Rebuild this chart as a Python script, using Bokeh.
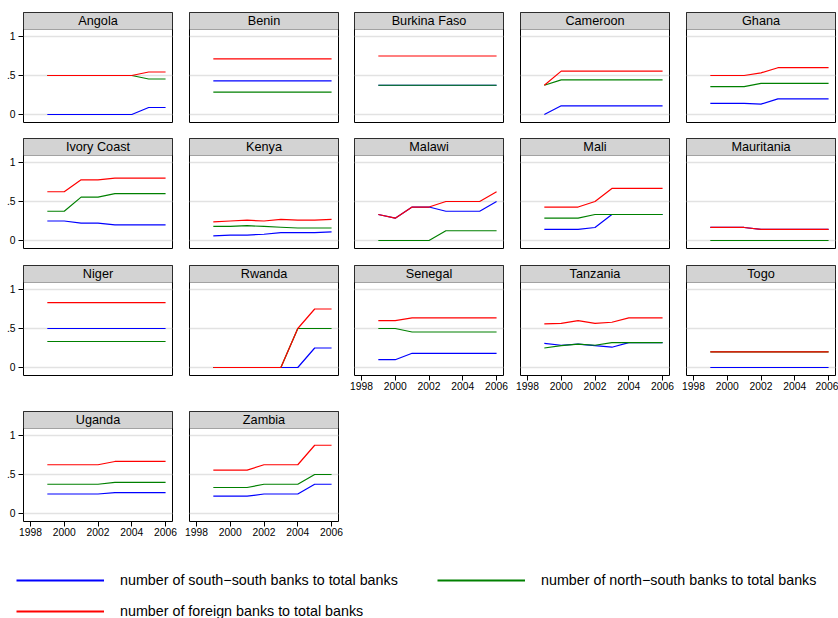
from bokeh.plotting import figure
from bokeh.layouts import column, row
from bokeh.models import (Range1d, FixedTicker, Grid, BoxAnnotation, Label,
                          Legend, LegendItem)
from bokeh.embed import file_html
from bokeh.resources import INLINE

# ---------------- data ----------------
years = [1999, 2000, 2001, 2002, 2003, 2004, 2005, 2006]
countries = ["Angola", "Benin", "Burkina Faso", "Cameroon", "Ghana",
             "Ivory Coast", "Kenya", "Malawi", "Mali", "Mauritania",
             "Niger", "Rwanda", "Senegal", "Tanzania", "Togo",
             "Uganda", "Zambia"]

south_south = [
    [0, 0, 0, 0, 0, 0, 0.09, 0.09],                                  # Angola
    [0.43, 0.43, 0.43, 0.43, 0.43, 0.43, 0.43, 0.43],                # Benin
    [0.375, 0.375, 0.375, 0.375, 0.375, 0.375, 0.375, 0.375],        # Burkina Faso
    [0, 0.111, 0.111, 0.111, 0.111, 0.111, 0.111, 0.111],            # Cameroon
    [0.143, 0.143, 0.143, 0.133, 0.2, 0.2, 0.2, 0.2],                # Ghana
    [0.25, 0.25, 0.222, 0.222, 0.2, 0.2, 0.2, 0.2],                  # Ivory Coast
    [0.06, 0.07, 0.07, 0.08, 0.10, 0.10, 0.10, 0.11],                # Kenya
    [0.333, 0.286, 0.429, 0.429, 0.375, 0.375, 0.375, 0.5],          # Malawi
    [0.143, 0.143, 0.143, 0.167, 0.333, 0.333, 0.333, 0.333],        # Mali
    [0.167, 0.167, 0.167, 0.143, 0.143, 0.143, 0.143, 0.143],        # Mauritania
    [0.5, 0.5, 0.5, 0.5, 0.5, 0.5, 0.5, 0.5],                        # Niger
    [0, 0, 0, 0, 0, 0, 0.25, 0.25],                                  # Rwanda
    [0.1, 0.1, 0.182, 0.182, 0.182, 0.182, 0.182, 0.182],            # Senegal
    [0.31, 0.285, 0.3, 0.28, 0.26, 0.318, 0.318, 0.318],             # Tanzania
    [0, 0, 0, 0, 0, 0, 0, 0],                                        # Togo
    [0.25, 0.25, 0.25, 0.25, 0.267, 0.267, 0.267, 0.267],            # Uganda
    [0.222, 0.222, 0.222, 0.25, 0.25, 0.25, 0.375, 0.375],           # Zambia
]

north_south = [
    [0.5, 0.5, 0.5, 0.5, 0.5, 0.5, 0.455, 0.455],                    # Angola
    [0.286, 0.286, 0.286, 0.286, 0.286, 0.286, 0.286, 0.286],        # Benin
    [0.375, 0.375, 0.375, 0.375, 0.375, 0.375, 0.375, 0.375],        # Burkina Faso
    [0.375, 0.444, 0.444, 0.444, 0.444, 0.444, 0.444, 0.444],        # Cameroon
    [0.357, 0.357, 0.357, 0.4, 0.4, 0.4, 0.4, 0.4],                  # Ghana
    [0.375, 0.375, 0.556, 0.556, 0.6, 0.6, 0.6, 0.6],                # Ivory Coast
    [0.18, 0.18, 0.19, 0.18, 0.17, 0.16, 0.16, 0.16],                # Kenya
    [0, 0, 0, 0, 0.125, 0.125, 0.125, 0.125],                        # Malawi
    [0.286, 0.286, 0.286, 0.333, 0.333, 0.333, 0.333, 0.333],        # Mali
    [0, 0, 0, 0, 0, 0, 0, 0],                                        # Mauritania
    [0.333, 0.333, 0.333, 0.333, 0.333, 0.333, 0.333, 0.333],        # Niger
    [0, 0, 0, 0, 0, 0.5, 0.5, 0.5],                                  # Rwanda
    [0.5, 0.5, 0.455, 0.455, 0.455, 0.455, 0.455, 0.455],            # Senegal
    [0.25, 0.28, 0.3, 0.285, 0.32, 0.318, 0.318, 0.318],             # Tanzania
    [0.2, 0.2, 0.2, 0.2, 0.2, 0.2, 0.2, 0.2],                        # Togo
    [0.375, 0.375, 0.375, 0.375, 0.4, 0.4, 0.4, 0.4],                # Uganda
    [0.333, 0.333, 0.333, 0.375, 0.375, 0.375, 0.5, 0.5],            # Zambia
]

foreign = [
    [0.5, 0.5, 0.5, 0.5, 0.5, 0.5, 0.545, 0.545],                    # Angola
    [0.714, 0.714, 0.714, 0.714, 0.714, 0.714, 0.714, 0.714],        # Benin
    [0.75, 0.75, 0.75, 0.75, 0.75, 0.75, 0.75, 0.75],                # Burkina Faso
    [0.375, 0.556, 0.556, 0.556, 0.556, 0.556, 0.556, 0.556],        # Cameroon
    [0.5, 0.5, 0.5, 0.533, 0.6, 0.6, 0.6, 0.6],                      # Ghana
    [0.625, 0.625, 0.778, 0.778, 0.8, 0.8, 0.8, 0.8],                # Ivory Coast
    [0.24, 0.25, 0.26, 0.25, 0.27, 0.26, 0.26, 0.27],                # Kenya
    [0.333, 0.286, 0.429, 0.429, 0.5, 0.5, 0.5, 0.625],              # Malawi
    [0.429, 0.429, 0.429, 0.5, 0.667, 0.667, 0.667, 0.667],          # Mali
    [0.167, 0.167, 0.167, 0.143, 0.143, 0.143, 0.143, 0.143],        # Mauritania
    [0.833, 0.833, 0.833, 0.833, 0.833, 0.833, 0.833, 0.833],        # Niger
    [0, 0, 0, 0, 0, 0.5, 0.75, 0.75],                                # Rwanda
    [0.6, 0.6, 0.636, 0.636, 0.636, 0.636, 0.636, 0.636],            # Senegal
    [0.56, 0.565, 0.6, 0.565, 0.58, 0.636, 0.636, 0.636],            # Tanzania
    [0.2, 0.2, 0.2, 0.2, 0.2, 0.2, 0.2, 0.2],                        # Togo
    [0.625, 0.625, 0.625, 0.625, 0.667, 0.667, 0.667, 0.667],        # Uganda
    [0.556, 0.556, 0.556, 0.625, 0.625, 0.625, 0.875, 0.875],        # Zambia
]

x_ticks = [1998, 2000, 2002, 2004, 2006]
y_ticks = [0, 0.5, 1]
y_tick_labels = {0: "0", 0.5: ".5", 1: "1"}

series_labels = ["number of south\u2212south banks to total banks",
                 "number of north\u2212south banks to total banks",
                 "number of foreign banks to total banks"]
series_colors = ["#0000ff", "#008000", "#ff0000"]

# ---------------- layout / style ----------------
FONT = "Liberation Sans"
X_LO, X_HI = 1997.59, 2006.41
Y_LO, Y_HI = -0.1026, 1.3077
HDR_BOTTOM = 1.0897
FRAME_W, FRAME_H = 149, 110
NCOL = 5
col_borders = [(23, 8), (9, 8), (8, 8), (9, 8), (9, 3)]
row_borders = [(12, 8), (8, 8), (9, 28), (8, 28)]
n = len(countries)
nrows = (n + NCOL - 1) // NCOL


def style_axis(ax, ticks):
    ax.ticker = FixedTicker(ticks=ticks)
    ax.axis_line_color = None
    ax.major_tick_line_color = "black"
    ax.major_tick_out = 5
    ax.major_tick_in = 0
    ax.minor_tick_line_color = None
    ax.major_label_text_font = FONT
    ax.major_label_text_font_size = "10.3px"
    ax.major_label_text_color = "black"


def make_panel(i):
    r, c = divmod(i, NCOL)
    L, R = col_borders[c]
    T, B = row_borders[r]
    has_x = (i + NCOL) >= n          # nothing below this panel
    has_y = c == 0
    p = figure(width=L + FRAME_W + R, height=T + FRAME_H + B,
               x_range=Range1d(X_LO, X_HI), y_range=Range1d(Y_LO, Y_HI),
               toolbar_location=None, output_backend="svg", title=None,
               x_axis_location="below" if has_x else None,
               y_axis_location="left" if has_y else None,
               min_border_left=L, min_border_right=R,
               min_border_top=T, min_border_bottom=B,
               outline_line_color="black", outline_line_width=1,
               background_fill_color="white", border_fill_color="white")
    p.xgrid.visible = False
    p.ygrid.visible = False
    p.add_layout(Grid(dimension=1, ticker=FixedTicker(ticks=y_ticks),
                      grid_line_color="#e2e2e2", grid_line_width=1.5))
    if has_y:
        ax = p.yaxis[0]
        style_axis(ax, y_ticks)
        ax.major_label_overrides = y_tick_labels
        ax.major_label_standoff = 3
    if has_x:
        ax = p.xaxis[0]
        style_axis(ax, x_ticks)
        ax.major_label_standoff = 1
    for vals, color in zip((south_south[i], north_south[i], foreign[i]), series_colors):
        p.line(years, vals, line_color=color, line_width=1.2)
    p.add_layout(BoxAnnotation(bottom=HDR_BOTTOM, fill_color="#d3d3d3", fill_alpha=1,
                               line_color="black", line_width=1))
    p.add_layout(Label(x=(X_LO + X_HI) / 2, y=(HDR_BOTTOM + Y_HI) / 2,
                       text=countries[i], text_align="center", text_baseline="middle",
                       text_font=FONT, text_font_style="normal",
                       text_font_size="12.7px", text_color="black"))
    return p


panels = [make_panel(i) for i in range(n)]
rows = [row(*panels[k * NCOL:(k + 1) * NCOL]) for k in range(nrows)]

# ---------------- legend ----------------
leg_fig = figure(width=838, height=69, x_range=Range1d(0, 1), y_range=Range1d(0, 1),
                 toolbar_location=None, output_backend="svg", title=None,
                 x_axis_location=None, y_axis_location=None,
                 min_border_left=0, min_border_right=0, min_border_top=0, min_border_bottom=0,
                 outline_line_color=None, background_fill_color="white",
                 border_fill_color="white")
leg_fig.xgrid.visible = False
leg_fig.ygrid.visible = False
nan = float("nan")
leg_positions = [(16, 28), (437, 28), (16, -3)]
for label, color, loc in zip(series_labels, series_colors, leg_positions):
    rend = leg_fig.line(x=[nan], y=[nan], line_color=color, line_width=2)
    leg = Legend(items=[LegendItem(label=label, renderers=[rend])], location=loc,
                 glyph_width=88, glyph_height=20, label_standoff=16,
                 label_text_font=FONT, label_text_font_size="14.3px",
                 label_text_color="black", padding=0, margin=0, spacing=0,
                 border_line_color=None, background_fill_alpha=0)
    leg_fig.add_layout(leg)

layout = column(*rows, leg_fig)

with open("out.html", "w") as f:
    f.write(file_html(layout, INLINE))
